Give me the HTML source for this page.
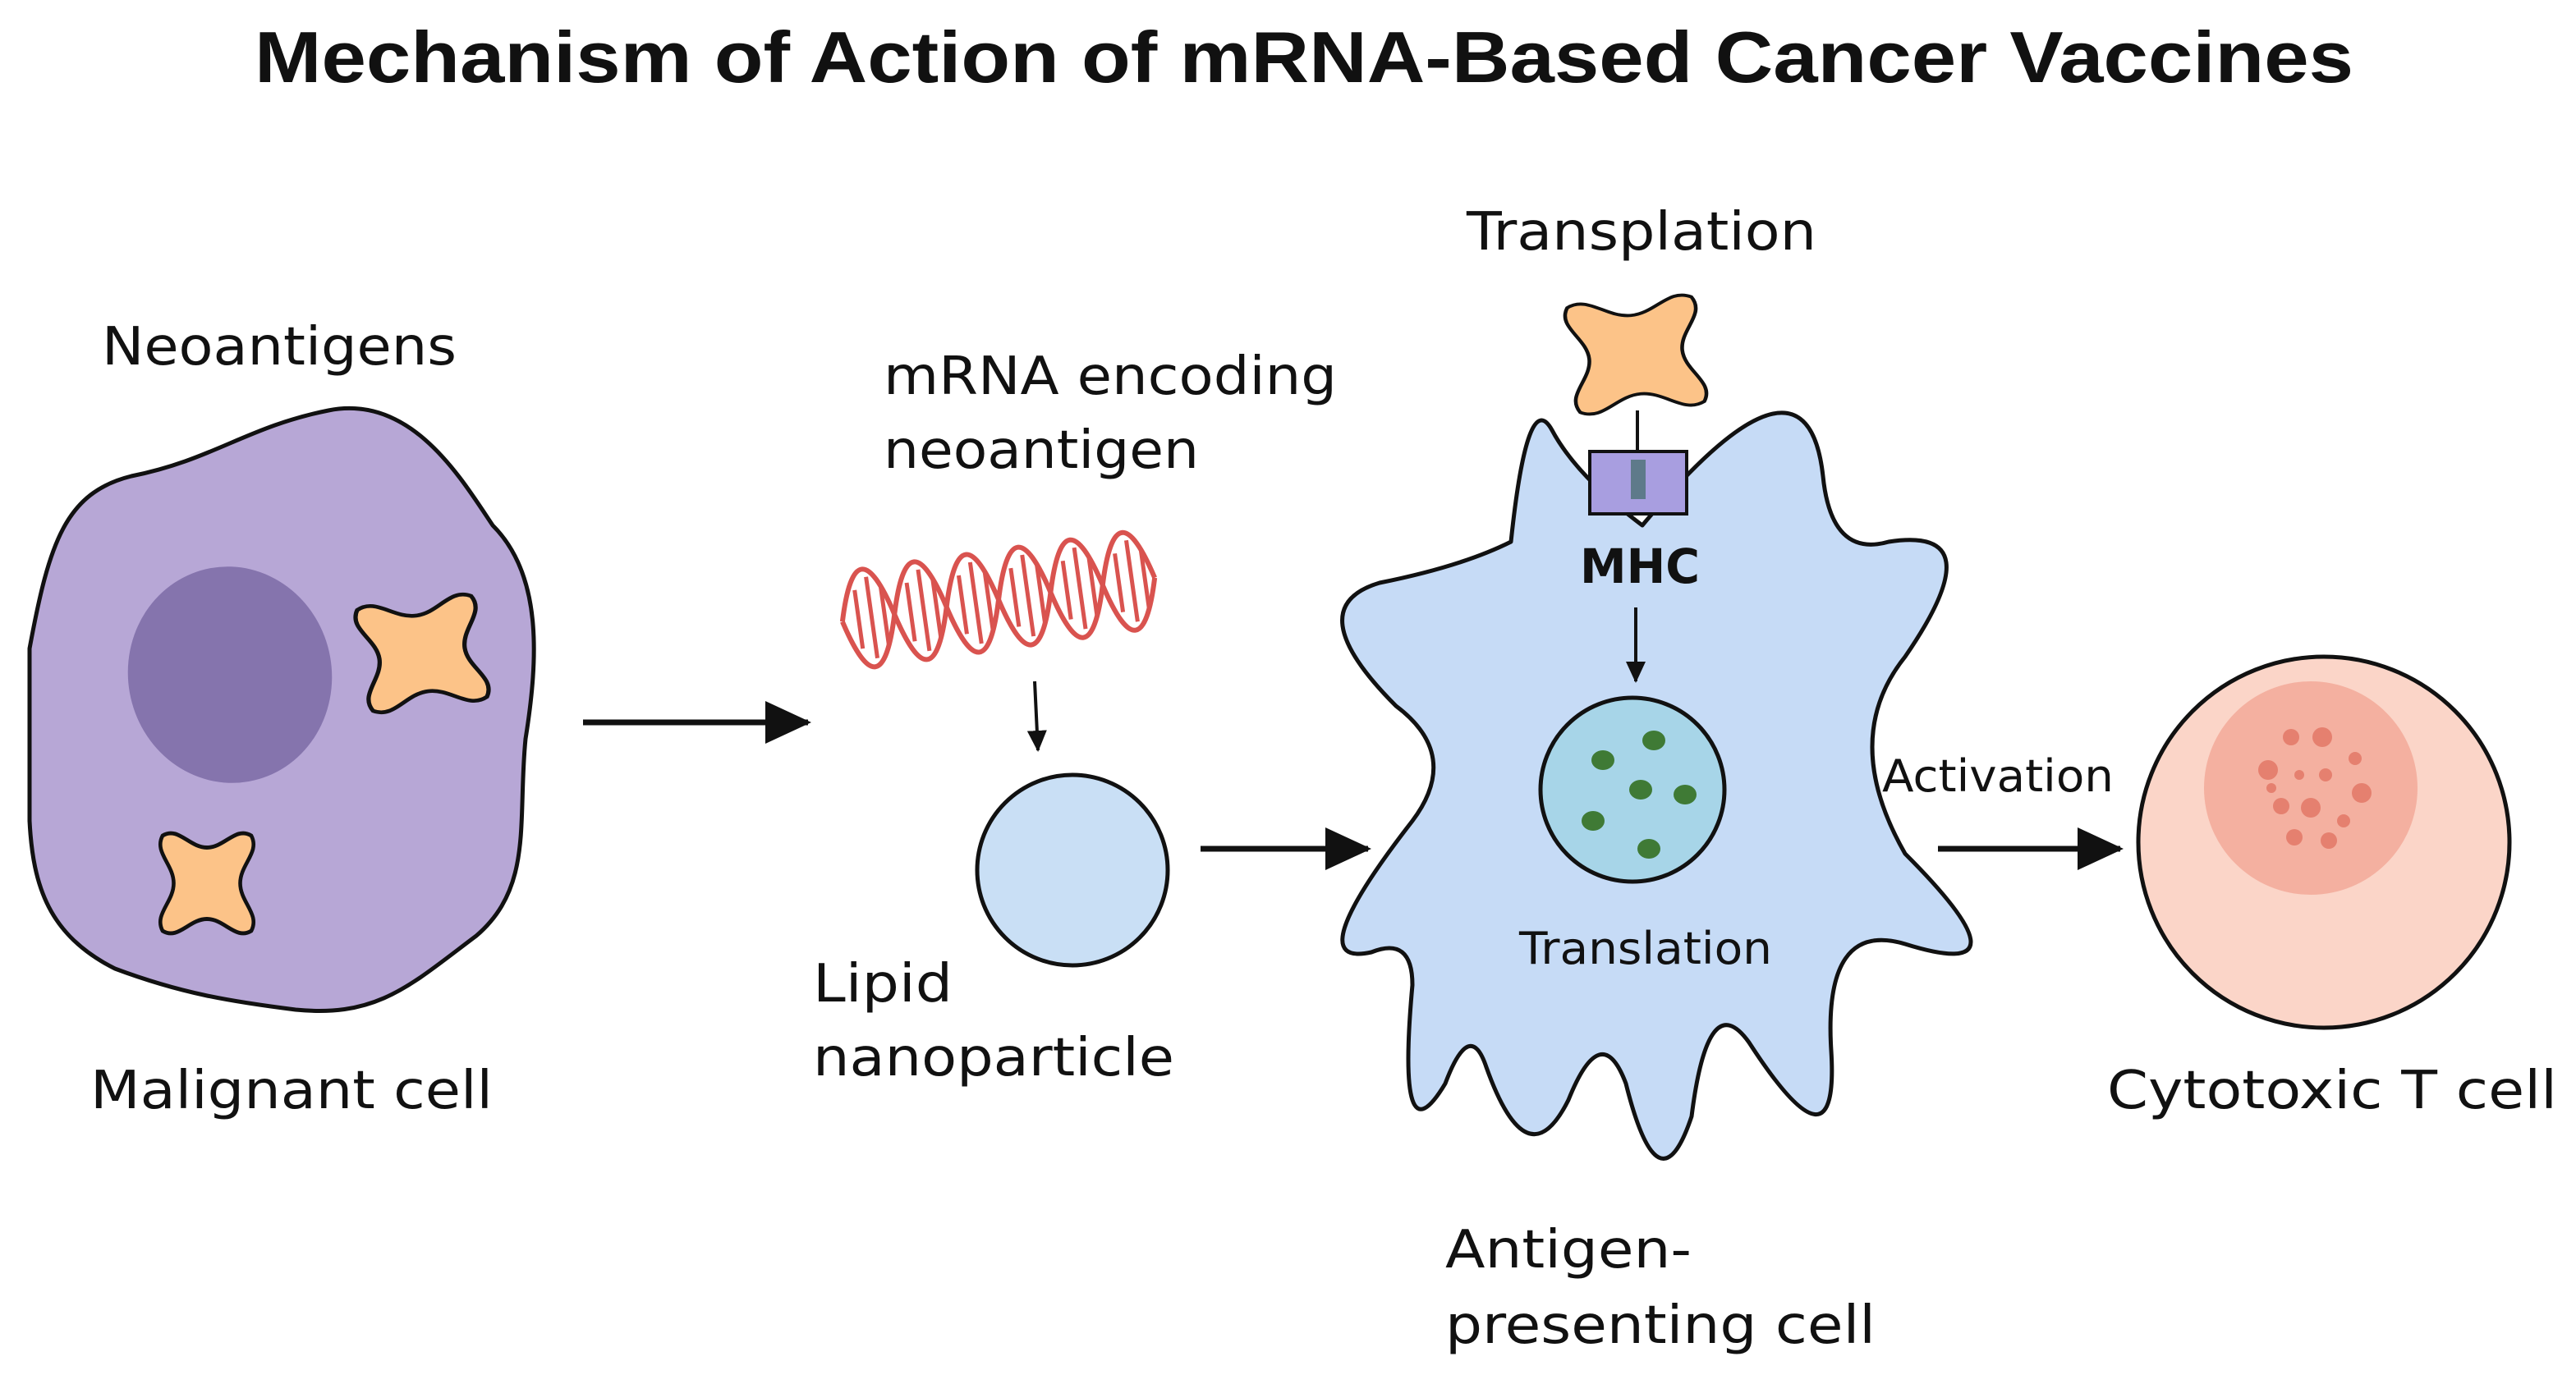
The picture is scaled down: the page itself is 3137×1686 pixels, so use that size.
<!DOCTYPE html>
<html><head><meta charset="utf-8"><style>
html,body{margin:0;padding:0;background:#fff;}
svg{display:block;}
text{font-family:"DejaVu Sans","Liberation Sans",sans-serif;fill:#111;}
</style></head><body>
<svg width="3137" height="1686" viewBox="0 0 1568.5 843" xmlns="http://www.w3.org/2000/svg">
<defs>
<path id="ag" d="M0 -15 C8 -15 13 -24 20 -20 C24 -13 15 -8 15 0 C15 8 24 13 20 20 C13 24 8 15 0 15 C-8 15 -13 24 -20 20 C-24 13 -15 8 -15 0 C-15 -8 -24 -13 -20 -20 C-13 -24 -8 -15 0 -15Z"/>
<marker id="ah" markerWidth="30" markerHeight="30" refX="26" refY="15" orient="auto" markerUnits="userSpaceOnUse" viewBox="0 0 30 30"><path d="M0 2 L28 15 L0 28 Z" fill="#111"/></marker>
<marker id="sh" markerWidth="14" markerHeight="14" refX="12" refY="7" orient="auto" markerUnits="userSpaceOnUse" viewBox="0 0 14 14"><path d="M0 1 L13 7 L0 13 Z" fill="#111"/></marker>
</defs>
<rect width="1568.5" height="843" fill="#fff"/>
<text x="155" y="50" font-size="44" font-weight="bold" textLength="1278" lengthAdjust="spacingAndGlyphs" style="font-family:'Liberation Sans',sans-serif">Mechanism of Action of mRNA-Based Cancer Vaccines</text>

<!-- Malignant cell -->
<path d="M18 395 C30 330 40 300 80 290 C130 280 150 260 200 250 C250 240 280 290 300 320 C330 350 328 400 320 450 C315 500 325 540 290 570 C250 600 230 620 180 615 C140 610 110 605 70 590 C30 570 20 540 18 500 Z" fill="#b7a7d6" stroke="#111" stroke-width="2.5"/>
<ellipse cx="140" cy="411" rx="62" ry="66" fill="#8574ad" transform="rotate(-10 140 411)"/>
<use href="#ag" transform="translate(257 398) scale(1.75 1.55) rotate(-8)" fill="#fcc388" stroke="#111" stroke-width="1.5"/>
<use href="#ag" transform="translate(126 538) scale(1.35 1.45)" fill="#fcc388" stroke="#111" stroke-width="1.7"/>
<text x="62" y="222" font-size="32" textLength="216" lengthAdjust="spacingAndGlyphs">Neoantigens</text>
<text x="55" y="675" font-size="32" textLength="245" lengthAdjust="spacingAndGlyphs">Malignant cell</text>

<line x1="355" y1="440" x2="492" y2="440" stroke="#111" stroke-width="3.5" marker-end="url(#ah)"/>

<!-- mRNA -->
<text x="538" y="240" font-size="32" textLength="276" lengthAdjust="spacingAndGlyphs">mRNA encoding</text>
<text x="538" y="285" font-size="32" textLength="192" lengthAdjust="spacingAndGlyphs">neoantigen</text>
<g transform="rotate(-8 610 365)" stroke="#d9534f" stroke-width="3" fill="none">
<path d="M512 365 q16 -60 32 0 t32 0 t32 0 t32 0 t32 0 t32 0"/>
<path d="M512 365 q16 60 32 0 t32 0 t32 0 t32 0 t32 0 t32 0"/>
<path d="M522 347 v36 M530 340 v50 M538 347 v36 M554 347 v36 M562 340 v50 M570 347 v36 M586 347 v36 M594 340 v50 M602 347 v36 M618 347 v36 M626 340 v50 M634 347 v36 M650 347 v36 M658 340 v50 M666 347 v36 M682 347 v36 M690 340 v50 M698 347 v36" stroke-width="2.5"/>
</g>
<line x1="630" y1="415" x2="632" y2="457" stroke="#111" stroke-width="2" marker-end="url(#sh)"/>
<circle cx="653" cy="530" r="58" fill="#c9dff5" stroke="#111" stroke-width="2.5"/>
<text x="495" y="610" font-size="32" textLength="85" lengthAdjust="spacingAndGlyphs">Lipid</text>
<text x="495" y="655" font-size="32" textLength="220" lengthAdjust="spacingAndGlyphs">nanoparticle</text>

<line x1="731" y1="517" x2="833" y2="517" stroke="#111" stroke-width="3.5" marker-end="url(#ah)"/>

<!-- APC -->
<path d="M920 330 Q930 235 945 262 Q960 290 1000 320 Q1100 200 1110 290 Q1115 340 1150 330 Q1215 320 1160 400 Q1120 450 1160 520 Q1240 600 1160 575 Q1110 560 1115 640 Q1120 720 1065 635 Q1040 600 1030 680 Q1010 740 990 660 Q975 620 955 670 Q930 720 905 650 Q895 620 880 660 Q850 710 860 600 Q860 570 835 580 Q790 590 860 500 Q890 460 850 430 Q790 370 840 355 Q890 345 920 330Z" fill="#c6dbf6" stroke="#111" stroke-width="2.5" stroke-linejoin="round"/>
<line x1="997" y1="250" x2="997" y2="276" stroke="#111" stroke-width="2"/>
<use href="#ag" transform="translate(996 216) scale(1.9 1.6) rotate(-6)" fill="#fcc388" stroke="#111" stroke-width="1.2"/>
<rect x="968" y="275" width="59" height="38" fill="#a89ee0" stroke="#111" stroke-width="2"/>
<rect x="993" y="280" width="9" height="24" fill="#5e7a8a"/>
<text x="962" y="355" font-size="29" font-weight="bold" textLength="73" lengthAdjust="spacingAndGlyphs">MHC</text>
<line x1="996" y1="370" x2="996" y2="415" stroke="#111" stroke-width="2" marker-end="url(#sh)"/>
<circle cx="994" cy="481" r="56" fill="#a7d5e8" stroke="#111" stroke-width="2.5"/>
<g fill="#3f7a35">
<ellipse cx="1007" cy="451" rx="7" ry="6"/><ellipse cx="976" cy="463" rx="7" ry="6"/>
<ellipse cx="999" cy="481" rx="7" ry="6"/><ellipse cx="1026" cy="484" rx="7" ry="6"/>
<ellipse cx="970" cy="500" rx="7" ry="6"/><ellipse cx="1004" cy="517" rx="7" ry="6"/>
</g>
<text x="925" y="587" font-size="27" textLength="154" lengthAdjust="spacingAndGlyphs">Translation</text>
<text x="893" y="152" font-size="32" textLength="213" lengthAdjust="spacingAndGlyphs">Transplation</text>
<text x="880" y="772" font-size="32" textLength="150" lengthAdjust="spacingAndGlyphs">Antigen-</text>
<text x="880" y="818" font-size="32" textLength="262" lengthAdjust="spacingAndGlyphs">presenting cell</text>

<text x="1146" y="482" font-size="27" textLength="141" lengthAdjust="spacingAndGlyphs">Activation</text>
<line x1="1180" y1="517" x2="1291" y2="517" stroke="#111" stroke-width="3.5" marker-end="url(#ah)"/>

<!-- T cell -->
<circle cx="1415" cy="513" r="113" fill="#fbd5c8" stroke="#111" stroke-width="2.5"/>
<circle cx="1407" cy="480" r="65" fill="#f4b0a0"/>
<g fill="#e5806f">
<circle cx="1395" cy="449" r="5"/><circle cx="1414" cy="449" r="6"/><circle cx="1434" cy="462" r="4"/>
<circle cx="1381" cy="469" r="6"/><circle cx="1400" cy="472" r="3"/><circle cx="1416" cy="472" r="4"/>
<circle cx="1438" cy="483" r="6"/><circle cx="1389" cy="491" r="5"/><circle cx="1407" cy="492" r="6"/>
<circle cx="1427" cy="500" r="4"/><circle cx="1397" cy="510" r="5"/><circle cx="1418" cy="512" r="5"/>
<circle cx="1383" cy="480" r="3"/>
</g>
<text x="1283" y="675" font-size="32" textLength="274" lengthAdjust="spacingAndGlyphs">Cytotoxic T cell</text>
</svg>
</body></html>
